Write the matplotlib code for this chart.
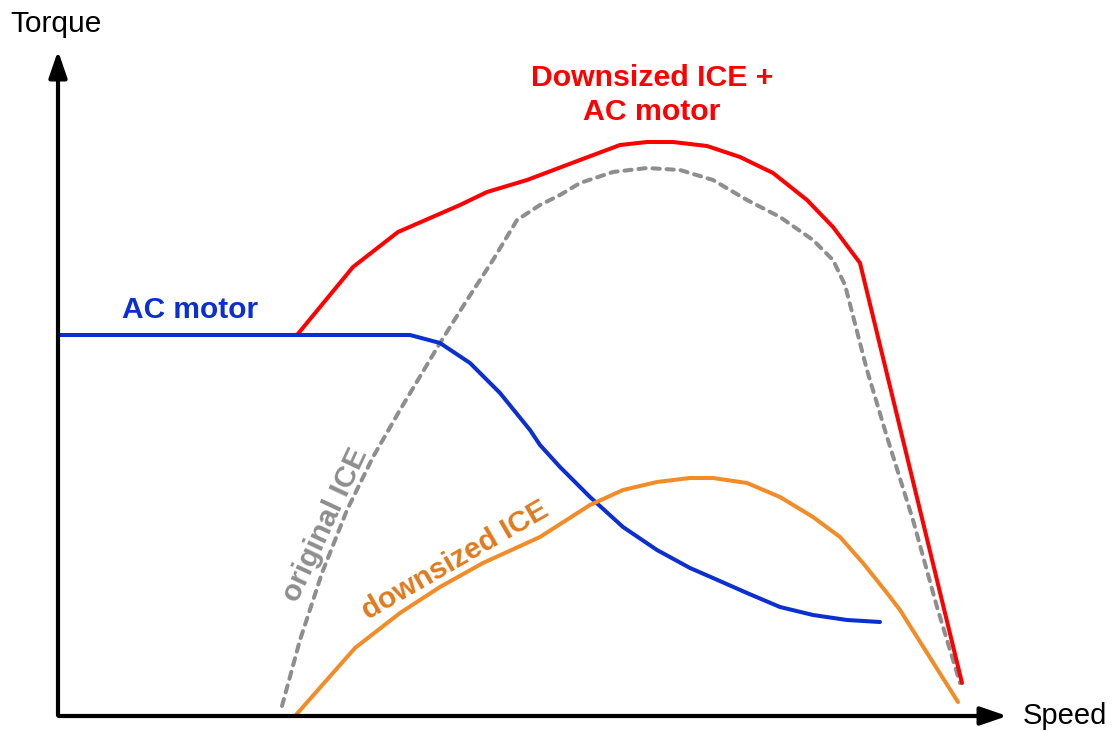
import numpy as np
import matplotlib
matplotlib.use("Agg")
import matplotlib.pyplot as plt

plt.rcParams['font.family'] = ['Liberation Sans', 'DejaVu Sans']

# speed / torque (arbitrary units)
ac_speed = [0, 347, 352, 382, 412, 442, 472, 482, 502, 532, 565, 599, 632, 655, 689, 722, 755, 789, 822]
ac_torque = [381, 381, 381, 373, 353, 323, 286, 271, 249, 219, 189, 166, 148, 138, 123, 109, 101, 96, 94]

combo_speed = [239, 295, 340, 402, 429, 469, 522, 562, 589, 615, 649, 682, 715, 749, 775, 802, 904]
combo_torque = [381, 449, 484, 511, 524, 536, 556, 571, 574, 574, 570, 559, 543, 516, 489, 453, 33]

orig_speed = [224, 242, 264, 289, 315, 342, 382, 409, 435, 459, 482, 502, 522, 555, 589, 622,
              655, 689, 722, 755, 775, 787, 809, 829, 855, 879, 902]
orig_torque = [10, 76, 143, 206, 259, 306, 373, 416, 456, 496, 511, 521, 533, 544, 548, 546,
               536, 516, 499, 476, 456, 431, 346, 279, 196, 109, 33]

down_speed = [237, 297, 342, 382, 425, 482, 532, 565, 599, 632, 655, 689, 722, 755, 782, 805, 829, 842, 900]
down_torque = [0, 68, 103, 129, 153, 179, 211, 226, 234, 238, 238, 233, 219, 199, 179, 153, 123, 106, 14]

fig = plt.figure(figsize=(11.2, 7.31), dpi=100)
ax = fig.add_axes([0, 0, 1, 1])
ax.set_xlim(-58, 1062)
ax.set_ylim(-15, 716)
ax.axis('off')

blue = '#0B2FD0'
red = '#FF0000'
grey = '#8E8E8E'
orange = '#F28C28'

ax.plot(orig_speed, orig_torque, color=grey, lw=2.9, ls=(0, (1.8, 1.7)), dash_capstyle='round',
        zorder=2, solid_joinstyle='round')
ax.plot(combo_speed, combo_torque, color=red, lw=2.9, zorder=3, solid_capstyle='round', solid_joinstyle='round')
ax.plot(ac_speed, ac_torque, color=blue, lw=2.9, zorder=3, solid_capstyle='round', solid_joinstyle='round')
ax.plot(down_speed, down_torque, color=orange, lw=2.9, zorder=3, solid_capstyle='round', solid_joinstyle='round')

# axes arrows
ax.annotate('', xy=(0, 668), xytext=(0, -2),
            arrowprops=dict(arrowstyle='-|>,head_length=1.6,head_width=0.55', lw=3, color='black'))
ax.annotate('', xy=(952, 0), xytext=(-2, 0),
            arrowprops=dict(arrowstyle='-|>,head_length=1.6,head_width=0.55', lw=3, color='black'))
ax.text(-2, 692, 'Torque', fontsize=21.5, ha='center', va='center')
ax.text(965, 0, 'Speed', fontsize=21, ha='left', va='center')

ax.text(594, 621, 'Downsized ICE +\nAC motor', color=red, fontsize=21.8, fontweight='bold',
        ha='center', va='center', linespacing=1.25)
ax.text(132, 406, 'AC motor', color=blue, fontsize=21.5, fontweight='bold', ha='center', va='center')
ax.text(267, 191, 'original ICE', color=grey, fontsize=21.5, fontweight='bold',
        ha='center', va='center', rotation=65)
ax.text(397, 156, 'downsized ICE', color='#E07A1E', fontsize=21.5, fontweight='bold',
        ha='center', va='center', rotation=30)

fig.savefig('out.png', dpi=100)
